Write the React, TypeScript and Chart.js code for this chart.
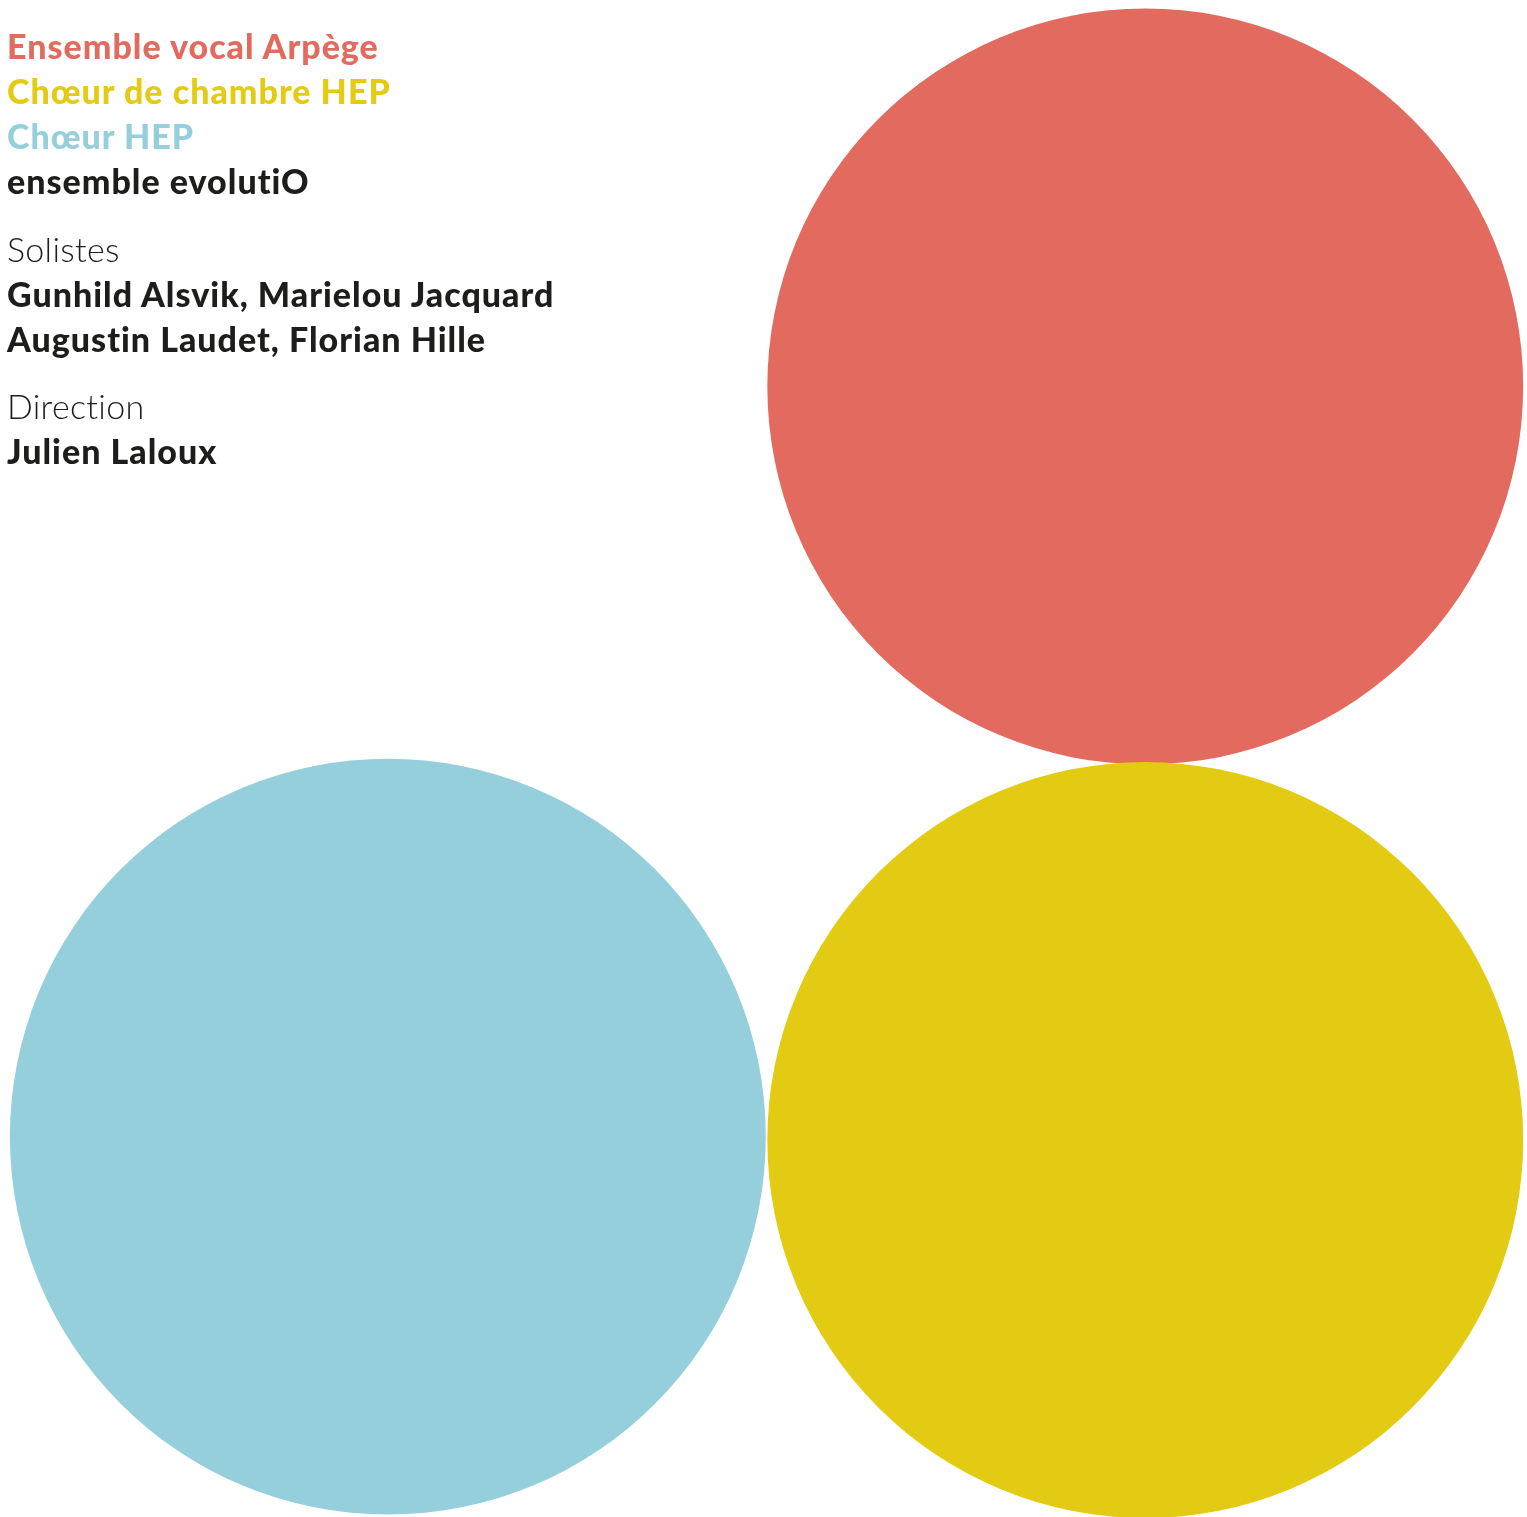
import React, { useEffect, useRef } from "react";
import { Chart, registerables } from "chart.js";

Chart.register(...registerables);

// Data: three circles on a 4 x 4 grid
const circleNames = ["Ensemble vocal Arpège", "Chœur de chambre HEP", "Chœur HEP"];
const circleX = [3.0, 3.0, 1.016];
const circleY = [1.019, 3.006, 2.997];
const circleSize = [0.99, 0.99, 0.99]; // radius in grid units
const circleColors = ["#E36A5F", "#E4CB13", "#95CFDC"];

const ensembleLines = [
  { text: "Ensemble vocal Arpège", color: "#E36A5F" },
  { text: "Chœur de chambre HEP", color: "#E4CB13" },
  { text: "Chœur HEP", color: "#95CFDC" },
  { text: "ensemble evolutiO", color: "#1d1d1b" },
];
const solistesLabel = "Solistes";
const solistesLines = ["Gunhild Alsvik, Marielou Jacquard", "Augustin Laudet, Florian Hille"];
const directionLabel = "Direction";
const directionLines = ["Julien Laloux"];

const W = 1527;
const H = 1517;
const FONT = "Lato, 'Open Sans', sans-serif";

export default function App() {
  const ref = useRef<HTMLCanvasElement | null>(null);

  useEffect(() => {
    document.body.style.margin = "0";
    document.body.style.background = "#ffffff";
    const canvas = ref.current;
    if (!canvas) return;
    const radiusFn = (ctx: any) => {
      const s = ctx.chart?.scales?.x;
      const raw = ctx.raw as any;
      if (!s || !raw) return 0;
      return Math.abs(s.getPixelForValue(raw.size) - s.getPixelForValue(0));
    };
    const chart = new Chart(canvas, {
      type: "scatter",
      data: {
        labels: circleNames,
        datasets: [
          {
            label: "circles",
            data: circleX.map((x, i) => ({ x, y: circleY[i], size: circleSize[i] })),
            backgroundColor: circleColors,
            pointBackgroundColor: circleColors,
            pointBorderWidth: 0,
            borderWidth: 0,
            pointRadius: radiusFn,
            pointHoverRadius: radiusFn,
            showLine: false,
          } as any,
        ],
      },
      options: {
        animation: false,
        responsive: false,
        maintainAspectRatio: false,
        layout: { padding: 0 },
        events: [],
        plugins: {
          legend: { display: false },
          tooltip: { enabled: false },
          title: { display: false },
        },
        scales: {
          x: { type: "linear", min: 0, max: 4, display: false },
          y: { type: "linear", min: 0, max: 4, reverse: true, display: false },
        },
        clip: false as any,
      },
    });
    return () => chart.destroy();
  }, []);

  const bold: React.CSSProperties = {
    fontFamily: FONT,
    fontWeight: 900,
    fontSize: 34,
    lineHeight: "45px",
    letterSpacing: "1px",
    fontVariantLigatures: "none",
    whiteSpace: "nowrap",
  };
  const light: React.CSSProperties = {
    fontFamily: FONT,
    fontWeight: 300,
    fontSize: 34,
    lineHeight: "45px",
    letterSpacing: "0.3px",
    fontVariantLigatures: "none",
    color: "#1d1d1b",
    whiteSpace: "nowrap",
  };

  return (
    <div style={{ position: "relative", width: W, height: H, overflow: "hidden", background: "#ffffff" }}>
      <canvas ref={ref} width={W} height={H} style={{ position: "absolute", left: 0, top: 0, width: W, height: H }} />
      <div style={{ position: "absolute", left: 7, top: 23 }}>
        {ensembleLines.map((l) => (
          <div key={l.text} style={{ ...bold, color: l.color }}>{l.text}</div>
        ))}
        <div style={{ ...light, marginTop: 23 }}>{solistesLabel}</div>
        {solistesLines.map((t) => (
          <div key={t} style={{ ...bold, color: "#1d1d1b" }}>{t}</div>
        ))}
        <div style={{ ...light, marginTop: 22 }}>{directionLabel}</div>
        {directionLines.map((t) => (
          <div key={t} style={{ ...bold, color: "#1d1d1b" }}>{t}</div>
        ))}
      </div>
    </div>
  );
}
